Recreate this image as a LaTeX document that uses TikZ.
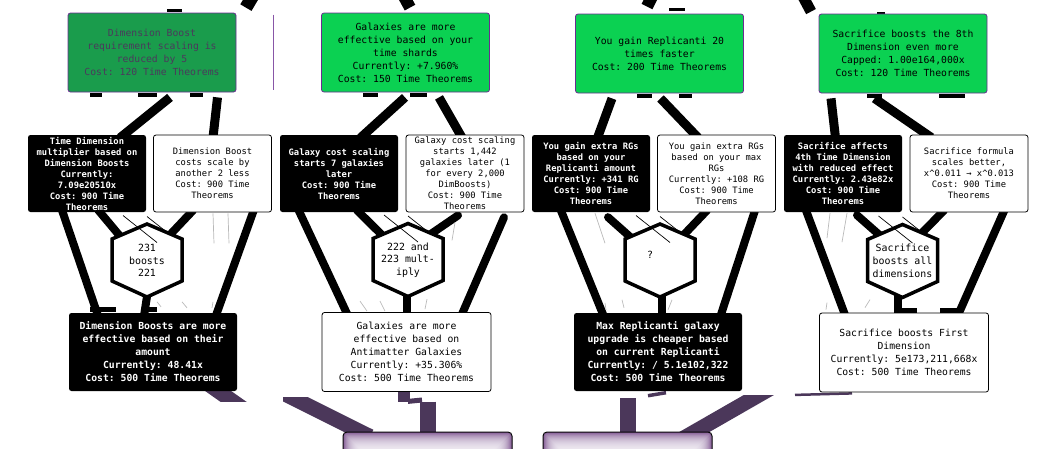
\documentclass[tikz,border=0pt]{standalone}
\usepackage{fontspec}
\setmonofont{DejaVu Sans Mono}
\usetikzlibrary{calc}
\definecolor{boughtdim}{HTML}{1A9C4C}
\definecolor{boughtfill}{HTML}{0BD152}
\definecolor{studyedge}{HTML}{6A2C91}
\definecolor{dimtext}{HTML}{4B3A5C}
\definecolor{dilation}{HTML}{4B375A}
\definecolor{dilglow}{HTML}{7E5290}
\pgfdeclarelayer{back}
\pgfsetlayers{back,main}
\def\hexcell(#1){\draw[hexline] ($(#1)+(0,-36.5)$) -- ++(35,15) -- ++(0,42) -- ++(-35,16) -- ++(-35,-16) -- ++(0,-42) -- cycle;}
\tikzset{
  study/.style={rectangle, inner sep=0, align=center, rounded corners=2.5},
  boughtstudy/.style={study, draw=studyedge, line width=0.8, fill=boughtfill, minimum width=168, minimum height=79, font=\ttfamily\fontsize{9.75}{13}\selectfont},
  dimstudy/.style={boughtstudy, fill=boughtdim, text=dimtext},
  ownedpair/.style={study, fill=black, text=white, minimum width=118, minimum height=77, font=\ttfamily\bfseries\fontsize{8.8}{11}\selectfont},
  openpair/.style={study, draw=black, line width=0.8, fill=white, minimum width=118, minimum height=77, font=\ttfamily\fontsize{8.8}{11}\selectfont},
  ownedmain/.style={study, fill=black, text=white, minimum width=168, minimum height=78, font=\ttfamily\bfseries\fontsize{9.75}{13}\selectfont},
  openmain/.style={study, draw=black, line width=0.8, fill=white, minimum width=169, minimum height=79, font=\ttfamily\fontsize{9.75}{13}\selectfont},
  hextext/.style={inner sep=0, align=center, font=\ttfamily\fontsize{9.9}{12.7}\selectfont},
  hexline/.style={draw=black, fill=white, line width=3.5, line join=miter},
  dilbox/.style={rectangle, rounded corners=4, draw=black, line width=1, fill=dilglow, minimum width=169, minimum height=60},
  link/.style={line width=9},
  branch/.style={line width=8, line cap=round},
  stub/.style={line width=4},
  hairline/.style={line width=0.7},
  faint/.style={line width=0.7, gray!55},
  dil/.style={draw=dilation, line width=15}
}

\begin{document}
\begin{tikzpicture}[x=1pt, y=-1pt]
  %%%%% START %%%%%
  \useasboundingbox (0,0) rectangle (1044,448);

  % row 1
  \node[dimstudy] (a1) at (152,52.5) {Dimension Boost\\requirement scaling is\\reduced by 5\\Cost: 120 Time Theorems};
  \node[boughtstudy] (a2) at (405.5,52.5) {Galaxies are more\\effective based on your\\time shards\\Currently: +7.960\%\\Cost: 150 Time Theorems};
  \node[boughtstudy] (a3) at (659.5,53.5) {You gain Replicanti 20\\times faster\\Cost: 200 Time Theorems};
  \node[boughtstudy] (a4) at (903,53.5) {Sacrifice boosts the 8th\\Dimension even more\\Capped: 1.00e164,000x\\Cost: 120 Time Theorems};

  % row 2
  \node[ownedpair] (b1) at (87,173.5) {Time Dimension\\multiplier based on\\Dimension Boosts\\Currently:\\7.09e20510x\\Cost: 900 Time\\Theorems};
  \node[openpair] (b2) at (212.5,173.5) {Dimension Boost\\costs scale by\\another 2 less\\Cost: 900 Time\\Theorems};
  \node[ownedpair] (b3) at (339,173.5) {Galaxy cost scaling\\starts 7 galaxies\\later\\Cost: 900 Time\\Theorems};
  \node[openpair] (b4) at (465,173.5) {Galaxy cost scaling\\starts 1,442\\galaxies later (1\\for every 2,000\\DimBoosts)\\Cost: 900 Time\\Theorems};
  \node[ownedpair] (b5) at (591,173.5) {You gain extra RGs\\based on your\\Replicanti amount\\Currently: +341 RG\\Cost: 900 Time\\Theorems};
  \node[openpair] (b6) at (716.5,173.5) {You gain extra RGs\\based on your max\\RGs\\Currently: +108 RG\\Cost: 900 Time\\Theorems};
  \node[ownedpair] (b7) at (843,173.5) {Sacrifice affects\\4th Time Dimension\\with reduced effect\\Currently: 2.43e82x\\Cost: 900 Time\\Theorems};
  \node[openpair] (b8) at (969,173.5) {Sacrifice formula\\scales better,\\x\textasciicircum 0.011 → x\textasciicircum 0.013\\Cost: 900 Time\\Theorems};

  % triads
  \node[hextext] (h1) at (147,260.5) {231\\boosts\\221};
  \node[hextext] (h2) at (408,260) {222 and\\223 mult-\\iply};
  \node[hextext] (h3) at (660,260.5) {};
  \node[hextext] (q3) at ($(h3.center)+(-10,-6)$) {?};
  \node[hextext] (h4) at (902.5,261) {Sacrifice\\boosts all\\dimensions};

  % row 3
  \node[ownedmain] (c1) at (153,352) {Dimension Boosts are more\\effective based on their\\amount\\Currently: 48.41x\\Cost: 500 Time Theorems};
  \node[openmain] (c2) at (406.5,352) {Galaxies are more\\effective based on\\Antimatter Galaxies\\Currently: +35.306\%\\Cost: 500 Time Theorems};
  \node[ownedmain] (c3) at (658,352) {Max Replicanti galaxy\\upgrade is cheaper based\\on current Replicanti\\Currently: / 5.1e102,322\\Cost: 500 Time Theorems};
  \node[openmain] (c4) at (904,352.5) {Sacrifice boosts First\\Dimension\\Currently: 5e173,211,668x\\Cost: 500 Time Theorems};

  % dilation
  \node[dilbox] (pb1) at (427.5,462) {};
  \node[dilbox] (pb2) at (627.5,462) {};
  \foreach \p in {pb1,pb2}
    \foreach \k in {1,...,16}
      \fill[white, fill opacity=0.12, rounded corners=3] ($(\p.north west)+(\k,\k)$) rectangle ($(\p.south east)+(-\k,-\k)$);

  \begin{pgfonlayer}{back}
    % lines leaving the top edge
    \draw[link, line width=13] ($(a1.north east)+(16,-16)$) -- ($(a1.north east)+(9.5,-5)$);
    \draw[stub, line width=3] ($(a1.north)+(15,-2.5)$) -- ($(a1.north)+(30,-2.5)$);
    \draw[link, line width=12] ($(a2.north)+(-1.5,-16)$) -- ($(a2.north)+(4.5,-5)$);
    \draw[link, line width=12] ($(a3.north)+(-7.5,-17)$) -- ($(a3.north)+(-12.5,-7)$);
    \draw[stub, line width=3.5] ($(a3.north)+(9.5,-4)$) -- ($(a3.north)+(25.5,-4)$);
    \draw[link, line width=11] ($(a4.north)+(-100,-17)$) -- ($(a4.north)+(-92,-2)$);
    \draw[stub, line width=2] ($(a4.north)+(-26,-1)$) -- ($(a4.north)+(-18,-1)$);
    \draw[studyedge!80, line width=0.8] ($(a1.north east)+(37,2)$) -- ($(a1.south east)+(37,-2)$);

    % row 1 to row 2
    \draw[link] ($(a1.south)+(18,5)$) -- ($(b1.north)+(33,3)$);
    \draw[link] ($(a1.south)+(65.5,5)$) -- ($(b2.north)+(0.5,3)$);
    \draw[link] ($(a2.south)+(-0.5,5)$) -- ($(b3.north)+(21.5,3)$);
    \draw[link] ($(a2.south)+(33.5,5)$) -- ($(b4.north)+(-3,3)$);
    \draw[link] ($(a3.south)+(-47.5,5)$) -- ($(b5.north)+(6.5,3)$);
    \draw[link] ($(a3.south)+(1,5)$) -- ($(b6.north)+(-18.5,3)$);
    \draw[link] ($(a4.south)+(-72,5)$) -- ($(b7.north)+(-7.5,3)$);
    \draw[link] ($(a4.south)+(-28.5,5)$) -- ($(b8.north)+(-37.5,3)$);
    \foreach \n/\xa/\xb/\dy in {a1/-62/-50/2.5, a1/-14/5/2.5, a1/38/51/2.5, a2/-42.5/-27.5/2.5, a2/4.5/21.5/2.5, a3/-22.5/-7.5/3, a3/19.5/32.5/3, a4/-36/-21/3, a4/36/62/3}
      \draw[stub] ($(\n.south)+(\xa,\dy)$) -- ($(\n.south)+(\xb,\dy)$);

    % row 2 to triads and row 3
    \draw[branch] ($(b1.south)+(-25,-2)$) -- ($(c1.north)+(-55.3,2)$);
    \draw[branch] ($(b1.south)+(11.3,-2)$) -- ($(h1.center)+(-20,-16)$);
    \draw[branch] ($(b2.south)+(-19.5,-2)$) -- ($(h1.center)+(19,-21.5)$);
    \draw[branch] ($(b2.south)+(41.2,-2)$) -- ($(c1.north)+(63.2,2)$);
    \draw[branch] ($(h1.center)+(1,29.5)$) -- ($(c1.north)+(-9,3)$);

    \draw[branch] ($(b3.south)+(-40.4,-2)$) -- ($(c2.north)+(-59.3,2)$);
    \draw[branch] ($(b3.south)+(18,-2)$) -- ($(h2.center)+(-16,-15)$);
    \draw[branch] ($(b4.south)+(-7,3)$) -- ($(h2.center)+(17,-22)$);
    \draw[branch] ($(b4.south)+(39,5)$) -- ($(c2.north)+(55.5,2)$);
    \draw[branch] ($(h2.center)+(-1,30)$) -- ($(c2.north)+(0.5,3)$);

    \draw[branch] ($(b5.south)+(-30.2,-2)$) -- ($(c3.north)+(-54.8,2)$);
    \draw[branch] ($(b5.south)+(17,5)$) -- ($(h3.center)+(-23,-17.5)$);
    \draw[branch] ($(b6.south)+(-9.5,-2)$) -- ($(h3.center)+(16,-17.5)$);
    \draw[branch] ($(b6.south)+(38.5,-2)$) -- ($(c3.north)+(62.9,2)$);
    \draw[branch] ($(h3.center)+(2,29.5)$) -- ($(c3.north)+(4,3)$);

    \draw[branch] ($(b7.south)+(-37.1,-2)$) -- ($(c4.north)+(-59.1,2)$);
    \draw[branch] ($(b7.south)+(14,3)$) -- ($(h4.center)+(-18.5,-22)$);
    \draw[branch] ($(b8.south)+(-25,-2)$) -- ($(h4.center)+(14.5,-23)$);
    \draw[branch] ($(b8.south)+(35.3,-2)$) -- ($(c4.north)+(54.2,2)$);
    \draw[branch] ($(h4.center)+(-4.5,29)$) -- ($(c4.north)+(-6,3)$);
    \foreach \n/\xa/\xb/\dy in {c1/-63/-37/-3, c1/-6/4/-3, c4/-6/13/-2, c4/36/56/-2}
      \draw[stub, line width=5] ($(\n.north)+(\xa,\dy)$) -- ($(\n.north)+(\xb,\dy)$);

    % row 3 to dilation
    \begin{scope}
      \clip (c1.south west) rectangle ($(c1.south east)+(15,10)$);
      \draw[dil] ($(c1.south)+(37,-20)$) -- ($(c1.south)+(108,30)$);
    \end{scope}
    \begin{scope}
      \clip ($(c1.south east)+(46,6)$) rectangle ($(pb1.north)+(0,10)$);
      \draw[dil] ($(c1.south east)+(40,-1)$) -- ($(pb1.north)+(-57.5,5)$);
    \end{scope}
    \draw[dil, line width=12] ($(c2.south)+(-2.5,-3)$) -- ($(c2.south)+(-2.5,10)$);
    \draw[dil, line width=5] ($(c2.south)+(1.5,9.5)$) -- ($(pb1.north)+(-5.5,-31.5)$);
    \draw[dil, line width=16] ($(pb1.north)+(0.5,-30)$) -- ($(pb1.north)+(0.5,4)$);
    \draw[dil, line width=16] ($(c3.south)+(-30,7)$) -- ($(pb2.north)+(0.5,4)$);
    \draw[dil, line width=3.5] ($(c3.south)+(8,1.5)$) -- ($(c3.south)+(-10,4.5)$);
    \begin{scope}
      \clip ($(pb2.north)+(0,-36)$) rectangle ($(pb2.north east)+(90,10)$);
      \draw[dil] ($(c3.south east)+(32,-5)$) -- ($(pb2.north)+(55.5,7)$);
    \end{scope}
    \draw[dil, line width=2.5] ($(c4.south)+(-109,2.5)$) -- ($(c4.south)+(-52,1)$);

    % triad outlines
    \foreach \h in {h1,h2,h3,h4} {\hexcell(\h.center)}

    % faint lines
    \foreach \h in {h1,h2,h3,h4} {
      \draw[hairline] ($(\h.center)+(-24,-45)$) -- ($(\h.center)+(10,-18)$);
      \draw[hairline] ($(\h.center)+(0,-44)$) -- ($(\h.center)+(19,-29)$);
    }
    \foreach \n/\xa/\ya/\xb/\yb in {b2/0.5/1/1.5/31, b2/15.5/1/16.5/31, b4/-10/10/-13/28, b5/4/1/14/31, b7/-13/1/-16/26, b7/4/1/-1/30}
      \draw[faint] ($(\n.south)+(\xa,\ya)$) -- ($(\n.south)+(\xb,\yb)$);
    \foreach \n/\xa/\ya/\xb/\yb in {c1/4/-11/8/-6, c1/29/-11/34/-5, c1/60/-11/59/-5, c2/-46.5/-11/-39.5/-1, c2/-26.5/-11/-21.5/-1, c2/20.5/-13/18.5/-3, c3/-53/-10/-52/-3, c3/-36/-13/-34/-5, c3/14/-13/10/-3, c4/-77/-10/-78/-3, c4/-34/-13/-39/-5}
      \draw[faint] ($(\n.north)+(\xa,\ya)$) -- ($(\n.north)+(\xb,\yb)$);
  \end{pgfonlayer}
  %%%%% END %%%%%
\end{tikzpicture}
\end{document}
